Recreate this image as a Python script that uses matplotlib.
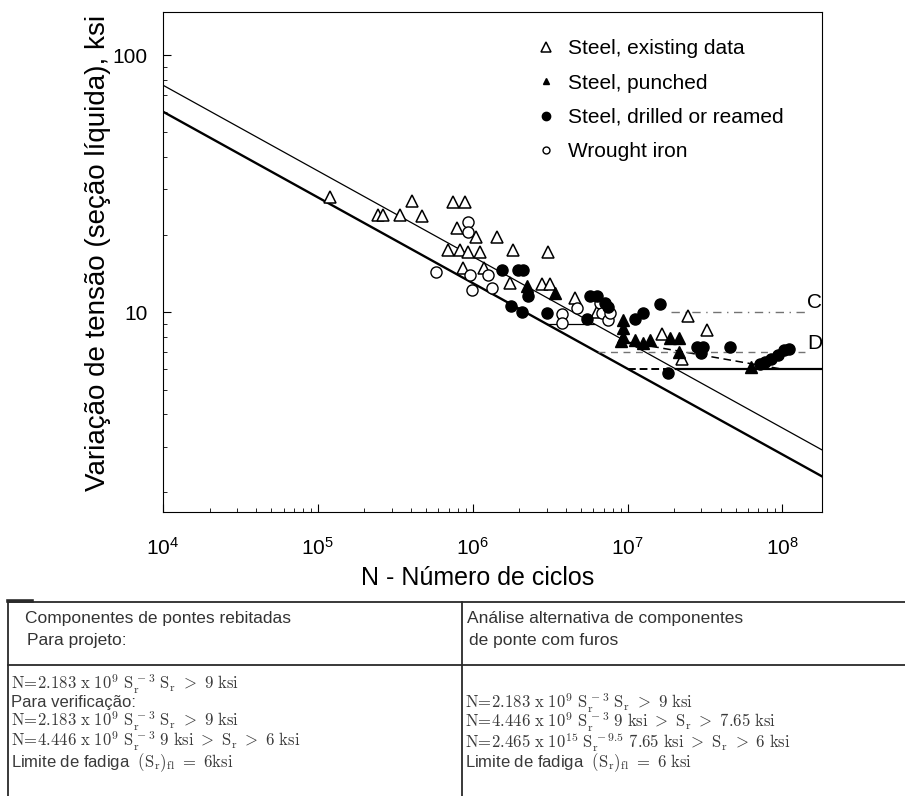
import numpy as np
import matplotlib
matplotlib.use('Agg')
import matplotlib.pyplot as plt
from matplotlib.lines import Line2D

plt.rcParams['font.family'] = ['Liberation Sans', 'DejaVu Sans']

# S-N curve constants (from the table under the chart)
A_design = 2.183e9
A_check = 4.446e9
A_alt = 2.465e15
alt_exp = 9.5
S_knee = 9.0
S_alt = 7.65
S_limit = 6.0
S_C = 10.0
S_D = 7.0

# test data: N cycles, stress range ksi
existing_N = [1.19e5, 2.44e5, 2.63e5, 3.38e5, 4.04e5, 4.69e5, 7.43e5, 8.88e5, 7.88e5, 1.05e6,
              1.43e6, 6.9e5, 8.25e5, 9.29e5, 1.11e6, 1.81e6, 3.05e6, 8.62e5, 1.19e6, 1.73e6,
              2.79e6, 3.14e6, 4.55e6, 6.31e6, 1.66e7, 2.26e7, 2.44e7, 3.28e7]
existing_S = [28.0, 23.9, 23.9, 23.9, 27.0, 23.6, 26.8, 26.8, 21.2, 19.6,
              19.6, 17.4, 17.4, 17.1, 17.1, 17.4, 17.2, 14.8, 14.8, 13.0,
              12.9, 12.9, 11.4, 10.0, 8.2, 6.6, 9.7, 8.5]

punched_N = [2.23e6, 3.38e6, 9.28e6, 9.28e6, 9.28e6, 9.0e6, 1.11e7, 1.25e7, 1.39e7, 1.87e7,
             2.16e7, 2.16e7, 6.31e7]
punched_S = [12.6, 11.9, 9.3, 8.7, 8.0, 7.7, 7.8, 7.6, 7.8, 7.9,
             7.9, 7.0, 6.1]

drilled_N = [1.54e6, 1.95e6, 2.1e6, 2.26e6, 1.77e6, 2.07e6, 3.0e6, 5.44e6, 5.69e6, 6.31e6,
             7.43e6, 7.11e6, 1.11e7, 1.25e7, 1.61e7, 1.81e7, 2.79e7, 3.05e7, 3.0e7, 4.55e7,
             7.2e7, 7.66e7, 8.49e7, 9.29e7, 1.03e8, 1.11e8]
drilled_S = [14.6, 14.6, 14.6, 11.6, 10.6, 10.0, 9.9, 9.4, 11.6, 11.6,
             10.5, 10.9, 9.4, 9.9, 10.8, 5.8, 7.35, 7.35, 6.95, 7.3,
             6.3, 6.4, 6.6, 6.8, 7.1, 7.2]

wrought_N = [5.77e5, 9.29e5, 9.29e5, 9.57e5, 9.86e5, 1.33e6, 1.25e6, 3.75e6, 3.75e6, 4.69e6,
             6.6e6, 6.79e6, 7.43e6, 7.66e6]
wrought_S = [14.3, 22.5, 20.5, 13.9, 12.2, 12.4, 14.0, 9.8, 9.1, 10.4,
             10.9, 9.9, 9.3, 9.9]

legend_labels = ['Steel, existing data', 'Steel, punched', 'Steel, drilled or reamed', 'Wrought iron']

left_rows = ['Componentes de pontes rebitadas', 'Para projeto:']
right_rows = ['Análise alternativa de componentes', 'de ponte com furos']
left_body = [r'$\mathrm{N\!=\!2.183\ x\ 10^9\ S_r^{\,-3}\ S_r\ >\ 9\ ksi}$',
             'Para verificação:',
             r'$\mathrm{N\!=\!2.183\ x\ 10^9\ S_r^{\,-3}\ S_r\ >\ 9\ ksi}$',
             r'$\mathrm{N\!=\!4.446\ x\ 10^9\ S_r^{\,-3}\ 9\ ksi\ >\ S_r\ >\ 6\ ksi}$',
             r'Limite de fadiga  $\mathrm{(S_r)_{fl}\ =\ 6ksi}$']
right_body = [r'$\mathrm{N\!=\!2.183\ x\ 10^9\ S_r^{\,-3}\ S_r\ >\ 9\ ksi}$',
              r'$\mathrm{N\!=\!4.446\ x\ 10^9\ S_r^{\,-3}\ 9\ ksi\ >\ S_r\ >\ 7.65\ ksi}$',
              r'$\mathrm{N\!=\!2.465\ x\ 10^{15}\ S_r^{\,-9.5}\ 7.65\ ksi\ >\ S_r\ >\ 6\ ksi}$',
              r'Limite de fadiga  $\mathrm{(S_r)_{fl}\ =\ 6\ ksi}$']

fig = plt.figure(figsize=(9.05, 7.96), dpi=100)
ax = fig.add_axes([163/905, 1 - 512/796, 659/905, 500/796])
ax.set_xscale('log')
ax.set_yscale('log')
xmax = 1.8e8
ax.set_xlim(1e4, xmax)
ax.set_ylim(1.67, 147)

N = np.logspace(4, np.log10(xmax), 60)
ax.plot(N, (A_design / N) ** (1 / 3), color='k', lw=1.7)
ax.plot(N, (A_check / N) ** (1 / 3), color='k', lw=0.9)

# fatigue limit and alternative branch
ax.plot([A_check / S_limit**3, xmax], [S_limit, S_limit], color='k', lw=1.6)
ax.plot([A_design / S_limit**3, A_check / S_limit**3], [S_limit, S_limit], color='k', lw=1.4,
        ls=(0, (4, 2)))
ax.plot([A_design / S_knee**3, A_check / S_knee**3], [S_knee, S_knee], color='k', lw=0.9)
S_branch = np.linspace(S_alt, S_limit, 20)
ax.plot(A_alt * S_branch ** -alt_exp, S_branch, color='k', lw=1.1, ls=(0, (5, 3)))

# category C and D lines
ax.plot([1.9e7, 1.45e8], [S_C, S_C], color='0.45', lw=1, ls=(0, (6, 4, 1, 4)))
ax.plot([6.4e6, 1.45e8], [S_D, S_D], color='0.45', lw=1, ls=(0, (5, 4)))
ax.text(1.61e8, 10.9, 'C', fontsize=15, ha='center', va='center')
ax.text(1.61e8, 7.57, 'D', fontsize=15, ha='center', va='center')

ms = 8
ax.plot(existing_N, existing_S, ls='none', marker='^', ms=ms, mfc='white', mec='k', mew=1.1, zorder=3)
ax.plot(wrought_N, wrought_S, ls='none', marker='o', ms=ms, mfc='white', mec='k', mew=1.0, zorder=3)
ax.plot(punched_N, punched_S, ls='none', marker='^', ms=ms, color='k', zorder=4)
ax.plot(drilled_N, drilled_S, ls='none', marker='o', ms=ms, color='k', zorder=4)

handles = [Line2D([], [], ls='none', marker='^', ms=7, mfc='white', mec='k', mew=1.1),
           Line2D([], [], ls='none', marker='^', ms=5, color='k'),
           Line2D([], [], ls='none', marker='o', ms=6, color='k'),
           Line2D([], [], ls='none', marker='o', ms=5, mfc='white', mec='k', mew=1.0)]
ax.legend(handles, legend_labels, loc='upper left', bbox_to_anchor=(0.569, 0.945), frameon=False,
          fontsize=15, handlelength=0.8, handletextpad=0.65, labelspacing=0.73,
          borderpad=0, borderaxespad=0)

ax.tick_params(which='both', direction='in', top=False, right=False)
ax.tick_params(which='major', length=6, labelsize=15)
ax.tick_params(which='minor', length=3)
ax.tick_params(axis='y', pad=11)
ax.tick_params(axis='x', pad=18)
ax.set_yticks([10, 100])
ax.set_yticklabels(['10', '100'])

ax.set_xlabel('N - Número de ciclos', fontsize=18)
ax.set_ylabel('Variação de tensão (seção líquida), ksi', fontsize=20)
ax.xaxis.set_label_coords(0.478, -0.108)
ax.yaxis.set_label_coords(-0.079, 0.518)

# table under the chart, in pixel-like coordinates
tab = fig.add_axes([0, 0, 1, 1])
tab.set_xlim(0, 905)
tab.set_ylim(796, 0)
tab.axis('off')
lc = '#2a2a2a'
tab.plot([8, 905], [602, 602], color=lc, lw=1.3)
tab.plot([8, 32], [601, 601], color=lc, lw=2.6)
tab.plot([8, 905], [665, 665], color=lc, lw=1.3)
tab.plot([8, 8], [602, 796], color=lc, lw=1.3)
tab.plot([462, 462], [602, 796], color=lc, lw=1.3)

hfs = 12.5
ffs = 12
tab.text(25, 618, left_rows[0], fontsize=hfs, va='center', color='#333333')
tab.text(27, 641, left_rows[1], fontsize=hfs, va='center', color='#333333')
tab.text(467, 618, right_rows[0], fontsize=hfs, va='center', color='#333333')
tab.text(469, 641, right_rows[1], fontsize=hfs, va='center', color='#333333')

for txt, y in zip(left_body, [684, 702, 721, 741, 763]):
    tab.text(11, y, txt, fontsize=ffs, va='center', color='#3a3a3a', math_fontfamily='cm')
for txt, y in zip(right_body, [703, 722, 742, 763]):
    tab.text(465, y, txt, fontsize=ffs, va='center', color='#3a3a3a', math_fontfamily='cm')

fig.savefig('out.png', dpi=100)
